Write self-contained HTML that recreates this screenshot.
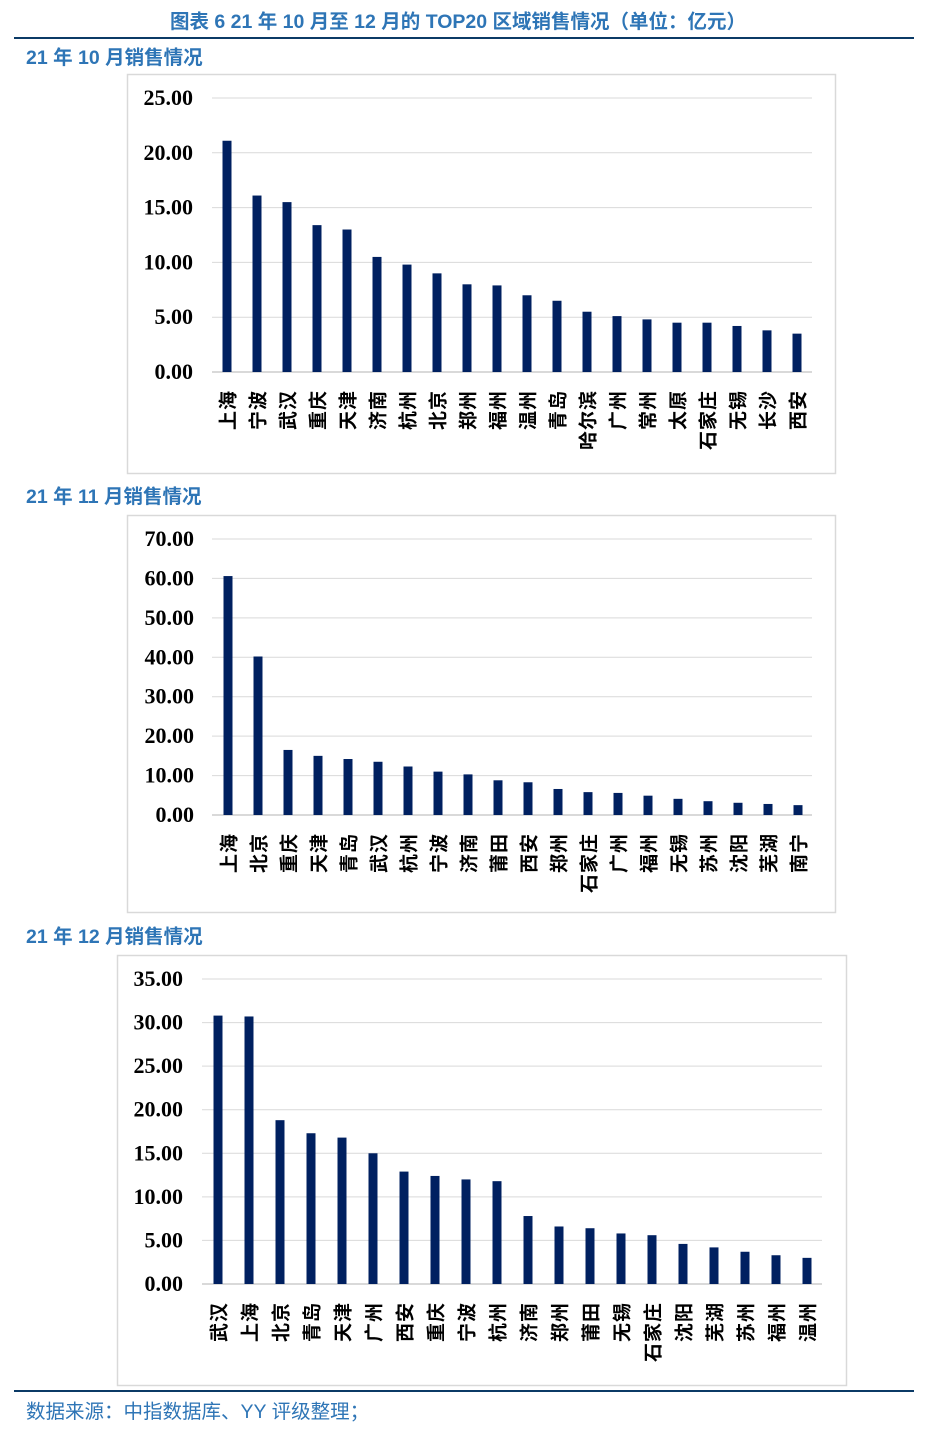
<!DOCTYPE html>
<html><head><meta charset="utf-8"><style>
body{margin:0;width:925px;height:1432px;background:#fff;overflow:hidden}
svg{display:block}
</style></head><body>
<svg id="s" width="925" height="1432" xmlns="http://www.w3.org/2000/svg">
<text x="458" y="28" text-anchor="middle" font-family="Liberation Sans,'Noto Sans CJK SC',sans-serif" font-weight="bold" font-size="19.5" fill="#2e75b6">图表 6 21 年 10 月至 12 月的 TOP20 区域销售情况（单位：亿元）</text>
<rect x="14" y="37" width="900" height="2" fill="#0b3a66"/>
<text x="26" y="64" font-family="Liberation Sans,'Noto Sans CJK SC',sans-serif" font-weight="bold" font-size="19.5" fill="#2e75b6">21 年 10 月销售情况</text>
<text x="26" y="503" font-family="Liberation Sans,'Noto Sans CJK SC',sans-serif" font-weight="bold" font-size="19.5" fill="#2e75b6">21 年 11 月销售情况</text>
<text x="26" y="943" font-family="Liberation Sans,'Noto Sans CJK SC',sans-serif" font-weight="bold" font-size="19.5" fill="#2e75b6">21 年 12 月销售情况</text>
<rect x="14" y="1390" width="900" height="2" fill="#0b3a66"/>
<text x="26" y="1418" font-family="Liberation Sans,'Noto Sans CJK SC',sans-serif" font-size="19.5" fill="#2e75b6">数据来源：中指数据库、YY 评级整理；</text>
</svg>
<script>
var s=document.getElementById('s'),NS='http://www.w3.org/2000/svg';
function el(t,a,txt){var e=document.createElementNS(NS,t);for(var k in a)e.setAttribute(k,a[k]);if(txt!=null)e.textContent=txt;s.appendChild(e);return e;}
function chart(c){
 el('rect',{x:c.bx+0.5,y:c.by+0.5,width:c.bw,height:c.bh,fill:'#fff',stroke:'#d9d9d9','stroke-width':1.5});
 var n=c.max/c.step;
 for(var i=0;i<=n;i++){var y=c.y0-(c.y0-c.ytop)*i/n;
  el('line',{x1:c.x1,x2:c.x2,y1:y,y2:y,stroke:'#d9d9d9','stroke-width':i==0?2:1});
  el('text',{x:c.lx,y:y+7,'text-anchor':'end','font-family':'Liberation Serif,serif','font-weight':'bold','font-size':22,fill:'#000'},(c.step*i).toFixed(2));}
 c.v.forEach(function(v,i){var cx=c.c0+i*c.sp,h=(c.y0-c.ytop)*v/c.max;
  el('rect',{x:cx-4.5,y:c.y0-h,width:9,height:h,fill:'#002060'});
  el('text',{transform:'translate('+(cx+7.5)+','+(c.y0+18)+') rotate(-90)','text-anchor':'end','font-family':"'Noto Sans CJK SC',sans-serif",'font-weight':'bold','font-size':19,'letter-spacing':1,fill:'#000'},c.l[i]);});
}
chart({bx:127,by:74,bw:708,bh:399,x1:212,x2:812,y0:372,ytop:98,max:25,step:5,lx:193,c0:227,sp:30,
v:[21.1,16.1,15.5,13.4,13.0,10.5,9.8,9.0,8.0,7.9,7.0,6.5,5.5,5.1,4.8,4.5,4.5,4.2,3.8,3.5],
l:['上海','宁波','武汉','重庆','天津','济南','杭州','北京','郑州','福州','温州','青岛','哈尔滨','广州','常州','太原','石家庄','无锡','长沙','西安']});
chart({bx:127,by:515,bw:708,bh:397,x1:212,x2:812,y0:815,ytop:539,max:70,step:10,lx:194,c0:228,sp:30,
v:[60.6,40.2,16.5,15.0,14.2,13.5,12.3,11.0,10.3,8.8,8.3,6.6,5.8,5.6,4.9,4.1,3.5,3.1,2.8,2.5],
l:['上海','北京','重庆','天津','青岛','武汉','杭州','宁波','济南','莆田','西安','郑州','石家庄','广州','福州','无锡','苏州','沈阳','芜湖','南宁']});
chart({bx:117,by:955,bw:729,bh:430,x1:202,x2:822,y0:1284,ytop:979,max:35,step:5,lx:183,c0:218,sp:31,
v:[30.8,30.7,18.8,17.3,16.8,15.0,12.9,12.4,12.0,11.8,7.8,6.6,6.4,5.8,5.6,4.6,4.2,3.7,3.3,3.0],
l:['武汉','上海','北京','青岛','天津','广州','西安','重庆','宁波','杭州','济南','郑州','莆田','无锡','石家庄','沈阳','芜湖','苏州','福州','温州']});
</script>
</body></html>
